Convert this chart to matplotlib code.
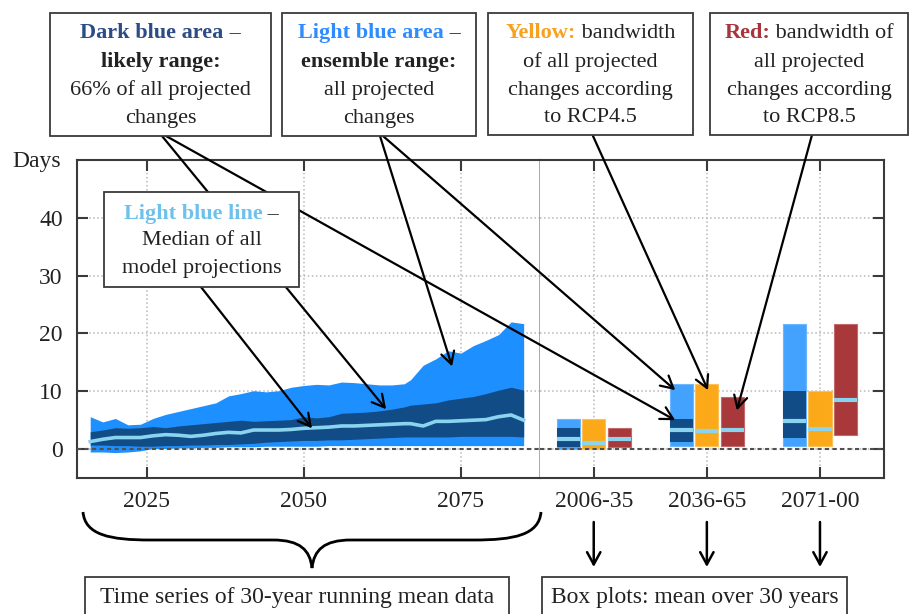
import matplotlib
matplotlib.use("Agg")
import matplotlib.pyplot as plt
import matplotlib.transforms as mtransforms
import numpy as np
from matplotlib.patches import Rectangle, PathPatch, ConnectionPatch
from matplotlib.path import Path
from matplotlib.offsetbox import TextArea, HPacker, AnnotationBbox

# ------------------------------------------------------------
# data: 30-year running mean (days)
# ------------------------------------------------------------
years = [2016, 2018, 2020, 2022, 2024, 2026, 2028, 2030, 2032, 2034, 2036, 2038,
         2040, 2042, 2044, 2046, 2048, 2050, 2052, 2054, 2056, 2058, 2060, 2062,
         2064, 2066, 2067, 2069, 2071, 2073, 2075, 2077, 2079, 2081, 2083, 2085]
ens_hi = [5.6, 4.7, 5.3, 4.2, 4.3, 5.3, 6.0, 6.5, 7.0, 7.5, 8.0, 9.2,
          9.6, 10.1, 9.9, 10.1, 10.7, 11.0, 11.2, 11.1, 11.6, 11.5, 11.3, 11.1,
          11.1, 11.3, 12.0, 14.5, 15.6, 17.0, 16.6, 17.9, 18.8, 19.8, 22.0, 21.7]
ens_lo = [-0.5, -0.5, -0.6, -0.5, -0.3, 0.1, 0.1, 0.2, 0.2, 0.3, 0.3, 0.4,
          0.4, 0.4, 0.5, 0.5, 0.5, 0.5, 0.5, 0.6, 0.6, 0.6, 0.6, 0.6,
          0.6, 0.6, 0.6, 0.6, 0.6, 0.6, 0.6, 0.6, 0.6, 0.6, 0.6, 0.6]
likely_hi = [3.0, 3.3, 3.7, 3.6, 3.7, 3.9, 3.7, 4.0, 4.2, 4.4, 4.6, 4.8,
             5.0, 4.8, 4.9, 5.0, 5.1, 5.6, 5.4, 5.6, 6.2, 6.3, 6.4, 6.6,
             6.9, 7.3, 7.6, 7.8, 8.0, 8.5, 8.8, 9.1, 9.6, 10.2, 10.7, 10.2]
likely_lo = [0.7, 0.7, 0.6, 0.6, 0.5, 0.5, 0.6, 0.6, 0.7, 0.7, 0.8, 0.8,
             0.9, 1.0, 1.2, 1.3, 1.4, 1.5, 1.5, 1.6, 1.6, 1.7, 1.8, 1.9,
             2.0, 2.1, 2.1, 2.1, 2.1, 2.1, 2.2, 2.2, 2.2, 2.2, 2.2, 2.1]
median = [1.3, 1.7, 2.0, 2.0, 2.0, 2.3, 2.5, 2.4, 2.2, 2.4, 2.7, 2.9,
          2.8, 3.3, 3.3, 3.3, 3.4, 3.6, 3.7, 3.8, 4.0, 4.0, 4.1, 4.2,
          4.3, 4.4, 4.4, 4.0, 4.8, 4.8, 4.9, 5.0, 5.1, 5.6, 5.9, 5.0]

# box plots: 30-year means
periods = ['2006-35', '2036-65', '2071-00']
all_lo = [0.0, 0.6, 0.6]
all_hi = [5.2, 11.2, 21.6]
all_likely_lo = [0.3, 1.3, 2.0]
all_likely_hi = [3.7, 5.2, 10.1]
all_med = [1.8, 3.3, 4.9]
rcp45_lo = [0.1, 0.6, 0.6]
rcp45_hi = [5.2, 11.2, 10.1]
rcp45_med = [1.1, 3.1, 3.4]
rcp85_lo = [0.4, 0.6, 2.5]
rcp85_hi = [3.7, 9.0, 21.6]
rcp85_med = [1.7, 3.3, 8.5]

# colours
c_ens = '#1E8FFF'
c_box_light = '#44A2FF'
c_dark = '#114C86'
c_med = '#8AD4F0'
c_yel = '#FBA919'
c_red = '#A8383A'
c_frame = '#3a3a3a'
c_txt = '#222222'

plt.rcParams['font.family'] = ['Liberation Serif', 'DejaVu Serif']

W, H = 909, 614
fig = plt.figure(figsize=(W / 100, H / 100), dpi=100)


def fx(x):
    return x / W


def fy(y):
    return 1 - y / H


ax1 = fig.add_axes([fx(76.7), fy(478.3), (540 - 76.7) / W, (478.3 - 160) / H])
ax2 = fig.add_axes([fx(540), fy(478.3), (884 - 540) / W, (478.3 - 160) / H])

# ------------------------------------------------------------
# left panel: time series
# ------------------------------------------------------------
ax1.fill_between(years, ens_lo, ens_hi, color=c_ens, lw=0, zorder=2)
ax1.fill_between(years, likely_lo, likely_hi, color=c_dark, lw=0, zorder=3)
ax1.plot(years, median, color=c_med, lw=2.6, zorder=4)

ax1.set_xlim(2013.85, 2087.6)
ax1.set_xticks([2025, 2050, 2075])

# ------------------------------------------------------------
# right panel: box plots
# ------------------------------------------------------------
pos = np.arange(1, 4)
off, bw = 0.225, 0.205
ax2.bar(pos - off, np.subtract(all_hi, all_lo), bottom=all_lo, width=bw,
        color=c_box_light, ec='#6BB6FF', lw=0.8, zorder=2)
ax2.bar(pos - off, np.subtract(all_likely_hi, all_likely_lo), bottom=all_likely_lo,
        width=bw, color=c_dark, zorder=3)
ax2.hlines(all_med, pos - off - bw / 2, pos - off + bw / 2, color=c_med, lw=3, zorder=4)
ax2.bar(pos, np.subtract(rcp45_hi, rcp45_lo), bottom=rcp45_lo, width=bw,
        color=c_yel, ec='#FDC15A', lw=0.8, zorder=2)
ax2.hlines(rcp45_med, pos - bw / 2, pos + bw / 2, color=c_med, lw=3, zorder=4)
ax2.bar(pos + off, np.subtract(rcp85_hi, rcp85_lo), bottom=rcp85_lo, width=bw,
        color=c_red, ec='#C26A6B', lw=0.8, zorder=2)
ax2.hlines(rcp85_med, pos + off - bw / 2, pos + off + bw / 2, color=c_med, lw=3, zorder=4)

ax2.set_xlim(0.525, 3.566)
ax2.set_xticks(pos)
ax2.set_xticklabels(periods)

# ------------------------------------------------------------
# shared axis styling
# ------------------------------------------------------------
for ax in (ax1, ax2):
    ax.set_ylim(-5.05, 50)
    ax.set_yticks([0, 10, 20, 30, 40])
    ax.grid(True, color='#b8b8b8', ls=':', lw=1.1, zorder=0)
    ax.axhline(0, color='#505050', ls=(0, (2, 1.6)), lw=1.5, zorder=6)
    ax.tick_params(direction='in', length=8, width=1.5, color=c_frame,
                   labelsize=17, labelcolor=c_txt, top=True)
    ax.tick_params(axis='x', pad=9)
    for s in ax.spines.values():
        s.set_color(c_frame)
        s.set_linewidth(1.5)

ax1.tick_params(axis='y', pad=10, right=False)
ax1.spines['right'].set_color('#999999')
ax1.spines['right'].set_linewidth(1.2)
ax2.spines['left'].set_visible(False)
ax2.tick_params(axis='y', left=False, labelleft=False, right=True)

fig.text(fx(12), fy(161), 'Days', ha='left', va='center', fontsize=17, color=c_txt)

# ------------------------------------------------------------
# annotation boxes
# ------------------------------------------------------------
FS = 16


def box(x0, y0, x1, y1):
    fig.add_artist(Rectangle((fx(x0), fy(y1)), (x1 - x0) / W, (y1 - y0) / H,
                             transform=fig.transFigure, fc='white', ec=c_frame,
                             lw=1.3, zorder=3))


def rich(parts, xc, yc, fs=FS):
    kids = [TextArea(t, textprops=dict(color=c, fontweight=w, fontsize=fs,
                                       family='Liberation Serif'))
            for t, c, w in parts]
    pack = HPacker(children=kids, pad=0, sep=0, align='baseline')
    ab = AnnotationBbox(pack, (fx(xc), fy(yc)), xycoords='figure fraction',
                        frameon=False, box_alignment=(0.5, 0.5), pad=0)
    ab.set_zorder(4)
    fig.add_artist(ab)


def plain(t, xc, yc, fs=FS):
    fig.text(fx(xc), fy(yc), t, ha='center', va='center', fontsize=fs,
             color=c_txt, zorder=4)


rows4 = [33, 62, 90, 118]

box(50, 13, 271, 136)
rich([('Dark blue area', '#2B4C86', 'bold'), (' –', c_txt, 'normal')], 160.5, rows4[0])
rich([('likely range:', c_txt, 'bold')], 160.5, rows4[1])
plain('66% of all projected', 160.5, rows4[2])
plain('changes', 160.5, rows4[3])

box(282, 13, 476, 136)
rich([('Light blue area', '#2F8CFF', 'bold'), (' –', c_txt, 'normal')], 379, rows4[0])
rich([('ensemble range:', c_txt, 'bold')], 379, rows4[1])
plain('all projected', 379, rows4[2])
plain('changes', 379, rows4[3])

box(488, 13, 693, 135)
rich([('Yellow:', '#F8A11E', 'bold'), (' bandwidth', c_txt, 'normal')], 590.5, rows4[0])
plain('of all projected', 590.5, rows4[1])
plain('changes according', 590.5, rows4[2])
plain('to RCP4.5', 590.5, rows4[3])

box(710, 13, 908, 135)
rich([('Red:', '#A8353B', 'bold'), (' bandwidth of', c_txt, 'normal')], 809, rows4[0])
plain('all projected', 809, rows4[1])
plain('changes according', 809, rows4[2])
plain('to RCP8.5', 809, rows4[3])

box(104, 192, 299, 287)
rich([('Light blue line', '#6EC1EC', 'bold'), (' –', c_txt, 'normal')], 201.5, 214)
plain('Median of all', 201.5, 241)
plain('model projections', 201.5, 268)

box(85, 577, 509, 630)
plain('Time series of 30-year running mean data', 297, 598, fs=17)
box(542, 577, 847, 630)
plain('Box plots: mean over 30 years', 694.5, 598, fs=17)

# ------------------------------------------------------------
# arrows from the boxes to the marks
# ------------------------------------------------------------
arrows = [
    ((162, 136), ax1, (2063.1, 6.9)),
    ((166, 136), ax2, (1.72, 5.0)),
    ((380, 136), ax1, (2073.6, 14.3)),
    ((383, 136), ax2, (1.72, 10.2)),
    ((593, 136), ax2, (2.01, 10.2)),
    ((811.7, 136), ax2, (2.265, 6.7)),
    ((201, 287), ax1, (2051.3, 3.6)),
]
for (sx, sy), ax, xy in arrows:
    cp = ConnectionPatch(xyA=(fx(sx), fy(sy)), coordsA=fig.transFigure,
                         xyB=xy, coordsB=ax.transData,
                         arrowstyle='->,head_length=0.55,head_width=0.3',
                         mutation_scale=16, lw=1.6, color='black',
                         shrinkA=0, shrinkB=0, zorder=2)
    fig.add_artist(cp)

# small arrows under the box-plot labels
tr = mtransforms.blended_transform_factory(ax2.transData, fig.transFigure)
for p in pos:
    cp = ConnectionPatch(xyA=(p, fy(522)), coordsA=tr, xyB=(p, fy(567)), coordsB=tr,
                         arrowstyle='->,head_length=0.55,head_width=0.3',
                         mutation_scale=16, lw=1.8, color='black',
                         shrinkA=0, shrinkB=0, zorder=2)
    fig.add_artist(cp)

# curly brace under the time series
bx = [83, 85, 110, 150, 273, 300, 310, 312, 314, 324, 351, 474, 514, 539, 541]
by = [512, 535, 540, 540, 540, 540, 550, 568, 550, 540, 540, 540, 540, 535, 512]
codes = [Path.MOVETO, Path.CURVE4, Path.CURVE4, Path.CURVE4, Path.LINETO,
         Path.CURVE4, Path.CURVE4, Path.CURVE4, Path.CURVE4, Path.CURVE4, Path.CURVE4,
         Path.LINETO, Path.CURVE4, Path.CURVE4, Path.CURVE4]
brace = Path([(fx(a), fy(b)) for a, b in zip(bx, by)], codes)
fig.add_artist(PathPatch(brace, transform=fig.transFigure, fc='none', ec='black',
                         lw=2, zorder=2))

plt.savefig('out.png', dpi=100)
